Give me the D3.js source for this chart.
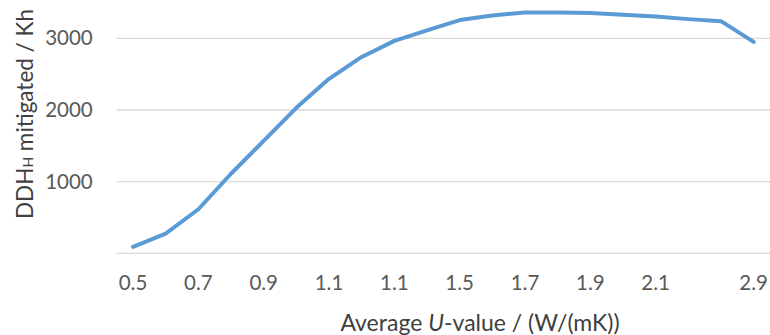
<!DOCTYPE html>
<html>
<head>
<meta charset="utf-8">
<script src="https://cdn.jsdelivr.net/npm/d3@7"></script>
<style>
  html, body { margin: 0; padding: 0; background: #fff; }
  svg { display: block; font-family: Lato, "Open Sans", sans-serif; }
</style>
</head>
<body>
<svg id="chart" width="770" height="335"></svg>
<script>
// Category labels along the x-axis (blank = unlabelled category)
const tickLabels = ["0.5", "", "0.7", "", "0.9", "", "1.1", "", "1.1", "",
                    "1.5", "", "1.7", "", "1.9", "", "2.1", "", "", "2.9"];
// Mitigated degree-hours per category
const ddhValues = [90, 275, 615, 1110, 1570, 2030, 2435, 2740, 2965, 3110,
                   3255, 3320, 3360, 3360, 3355, 3330, 3305, 3268, 3240, 2950];
const yTicks = [1000, 2000, 3000];
const yGrid = [0, 1000, 2000, 3000];

const svg = d3.select("#chart");
const margin = { left: 116.7, right: 0, top: 2.5, bottom: 253.3 };
const W = 770, H = 335;

const x = d3.scaleBand()
  .domain(d3.range(ddhValues.length))
  .range([margin.left, W - margin.right])
  .paddingInner(0).paddingOuter(0);

const y = d3.scaleLinear().domain([0, 3500]).range([margin.bottom, margin.top]);

const textColor = "#595959";
const font = "Lato, 'Open Sans', sans-serif";

// Horizontal gridlines
svg.append("g")
  .selectAll("line")
  .data(yGrid)
  .join("line")
  .attr("x1", margin.left).attr("x2", W - margin.right)
  .attr("y1", d => y(d)).attr("y2", d => y(d))
  .attr("stroke", "#d9d9d9").attr("stroke-width", 1.3);

// Y-axis tick labels
const yAxis = d3.axisLeft(y).tickValues(yTicks).tickFormat(d3.format("d"))
  .tickSize(0).tickPadding(0);
svg.append("g")
  .attr("transform", `translate(${margin.left - 24},0)`)
  .call(yAxis)
  .call(g => g.select(".domain").remove())
  .call(g => g.selectAll("text")
    .attr("fill", textColor)
    .attr("font-size", 20.5)
    .attr("font-family", font));

// X-axis category labels
const xAxis = d3.axisBottom(x).tickFormat(i => tickLabels[i]).tickSize(0).tickPadding(0);
svg.append("g")
  .attr("transform", `translate(0,${margin.bottom + 22})`)
  .call(xAxis)
  .call(g => g.select(".domain").remove())
  .call(g => g.selectAll("text")
    .attr("fill", textColor)
    .attr("font-size", 20.5)
    .attr("font-family", font));

// Data line
const line = d3.line()
  .x((d, i) => x(i) + x.bandwidth() / 2)
  .y(d => y(d));

svg.append("path")
  .datum(ddhValues)
  .attr("d", line)
  .attr("fill", "none")
  .attr("stroke", "#5b9bd5")
  .attr("stroke-width", 4)
  .attr("stroke-linejoin", "round")
  .attr("stroke-linecap", "round");

// Axis titles
const yTitle = svg.append("text")
  .attr("transform", `translate(33,${114}) rotate(-90)`)
  .attr("text-anchor", "middle")
  .attr("fill", "#404040")
  .attr("font-size", 22.5);
yTitle.append("tspan").text("DDH");
yTitle.append("tspan").attr("font-size", 14).text("H");
yTitle.append("tspan").text(" mitigated / Kh");

const xTitle = svg.append("text")
  .attr("x", 480).attr("y", 331)
  .attr("text-anchor", "middle")
  .attr("fill", "#404040")
  .attr("font-size", 23);
xTitle.append("tspan").text("Average ");
xTitle.append("tspan").attr("font-style", "italic").text("U");
xTitle.append("tspan").text("-value / (W/(mK))");
</script>
</body>
</html>
